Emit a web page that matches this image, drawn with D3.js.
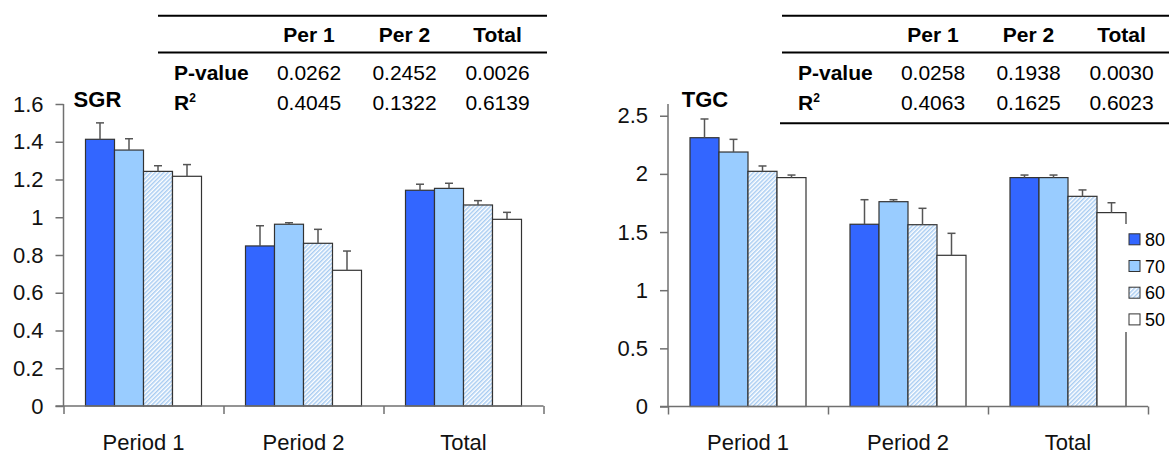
<!DOCTYPE html>
<html lang="en">
	<head>
		<meta charset="utf-8">
		<title>SGR and TGC bar charts</title>
		<script type="text/javascript" src="https://cdn.jsdelivr.net/npm/d3@7"></script>
		<style type="text/css">
			body { margin: 0; background: #fff; }
			svg { font-family: "Liberation Sans", Arial, sans-serif; }
			.tick text { font-size: 22px; fill: #111; }
		</style>
	</head>
	<body>
		<script type="text/javascript">

			//Width and height
			var w = 1169;
			var h = 454;

			//categories and series
			var categories = ["Period 1", "Period 2", "Total"];
			var series = ["80", "70", "60", "50"];

			//SGR means and error bars, one row per series
			var sgrMeans = [
				[1.413, 0.848, 1.143],
				[1.356, 0.963, 1.153],
				[1.243, 0.862, 1.065],
				[1.217, 0.719, 0.989]
			];
			var sgrErrors = [
				[0.087, 0.107, 0.032],
				[0.060, 0.008, 0.027],
				[0.030, 0.074, 0.023],
				[0.062, 0.102, 0.037]
			];

			//TGC means and error bars
			var tgcMeans = [
				[2.311, 1.567, 1.968],
				[2.188, 1.761, 1.968],
				[2.022, 1.563, 1.807],
				[1.968, 1.300, 1.667]
			];
			var tgcErrors = [
				[0.161, 0.211, 0.022],
				[0.109, 0.017, 0.022],
				[0.046, 0.141, 0.055],
				[0.022, 0.189, 0.085]
			];

			//tick labels
			var sgrTicks = [0, 0.2, 0.4, 0.6, 0.8, 1, 1.2, 1.4, 1.6];
			var tgcTicks = [0, 0.5, 1, 1.5, 2, 2.5];

			//tables
			var tableCols = ["Per 1", "Per 2", "Total"];
			var sgrPvalues = ["0.0262", "0.2452", "0.0026"];
			var sgrR2 = ["0.4045", "0.1322", "0.6139"];
			var tgcPvalues = ["0.0258", "0.1938", "0.0030"];
			var tgcR2 = ["0.4063", "0.1625", "0.6023"];

			var fills = ["#3366ff", "#99ccff", "url(#hatch)", "#ffffff"];

			var svg = d3.select("body")
						.append("svg")
						.attr("width", w)
						.attr("height", h);

			//hatch pattern for the 60 series
			var pat = svg.append("defs").append("pattern")
						.attr("id", "hatch")
						.attr("patternUnits", "userSpaceOnUse")
						.attr("width", 3)
						.attr("height", 3)
						.attr("patternTransform", "rotate(45)");
			pat.append("rect").attr("width", 3).attr("height", 3).attr("fill", "#ffffff");
			pat.append("rect").attr("width", 1.5).attr("height", 3).attr("fill", "#a8ccf2");

			function drawChart(opt) {
				var g = svg.append("g");

				var y = d3.scaleLinear().domain([0, opt.ymax]).range([opt.y0, opt.ytop]);
				var x0 = d3.scaleBand().domain(categories).range([opt.x0, opt.x1]);
				var x1 = d3.scaleBand().domain(series).range([22, x0.bandwidth() - 22]);

				//bars
				series.forEach(function(s, si) {
					g.selectAll(".bar" + si)
						.data(categories)
						.enter()
						.append("rect")
						.attr("x", function(d) { return x0(d) + x1(s); })
						.attr("width", x1.bandwidth())
						.attr("y", function(d, i) { return y(opt.means[si][i]); })
						.attr("height", function(d, i) { return y(0) - y(opt.means[si][i]); })
						.attr("fill", fills[si])
						.attr("stroke", "#333")
						.attr("stroke-width", 1.2);

					//error bars
					var eb = g.selectAll(".err" + si)
						.data(categories)
						.enter()
						.append("g")
						.attr("stroke", "#555")
						.attr("stroke-width", 1.5);
					eb.append("line")
						.attr("x1", function(d) { return x0(d) + x1(s) + x1.bandwidth() / 2; })
						.attr("x2", function(d) { return x0(d) + x1(s) + x1.bandwidth() / 2; })
						.attr("y1", function(d, i) { return y(opt.means[si][i]); })
						.attr("y2", function(d, i) { return y(opt.means[si][i] + opt.errors[si][i]); });
					eb.append("line")
						.attr("x1", function(d) { return x0(d) + x1(s) + x1.bandwidth() / 2 - 4; })
						.attr("x2", function(d) { return x0(d) + x1(s) + x1.bandwidth() / 2 + 4; })
						.attr("y1", function(d, i) { return y(opt.means[si][i] + opt.errors[si][i]); })
						.attr("y2", function(d, i) { return y(opt.means[si][i] + opt.errors[si][i]); });
				});

				//y axis
				var ya = g.append("g")
						.attr("transform", "translate(" + opt.x0 + ",0)")
						.call(d3.axisLeft(y).tickValues(opt.ticks).tickSize(8).tickPadding(12)
							.tickFormat(function(d) { return d; }));
				ya.select(".domain").attr("d", "M0," + y(0) + "V" + opt.ytop);

				//x axis tick marks at the group edges
				var xb = d3.scaleLinear().domain([0, categories.length]).range([opt.x0, opt.x1]);
				var xa = g.append("g")
						.attr("transform", "translate(0," + y(0) + ")")
						.call(d3.axisBottom(xb).tickValues([0, 1, 2, 3]).tickSize(8).tickFormat(""));
				xa.select(".domain").attr("d", "M" + (opt.x0 - 8) + ",0H" + opt.x1);

				//category labels, baseline kept at about y = 450
				var xl = g.append("g")
						.attr("transform", "translate(0,406)")
						.call(d3.axisBottom(x0).tickSize(0).tickPadding(28.5));
				xl.select(".domain").remove();

				g.selectAll(".domain, .tick line").attr("stroke", "#707070").attr("stroke-width", 1.5);

				//title
				g.append("text")
					.attr("x", opt.titleX)
					.attr("y", 107)
					.attr("font-size", 22)
					.attr("font-weight", "bold")
					.text(opt.title);

				//table
				var t = svg.append("g").attr("transform", "translate(" + opt.tableX + ",0)");
				t.append("line").attr("x1", 0).attr("x2", 389).attr("y1", 15.7).attr("y2", 15.7)
					.attr("stroke", "#000").attr("stroke-width", 2);
				t.append("line").attr("x1", 0).attr("x2", 389).attr("y1", 52.5).attr("y2", 52.5)
					.attr("stroke", "#000").attr("stroke-width", 2);
				if (opt.bottomLine) {
					t.append("line").attr("x1", -2).attr("x2", 389).attr("y1", 123.3).attr("y2", 123.3)
						.attr("stroke", "#000").attr("stroke-width", 2);
				}
				var colX = [151, 246.5, 339.5];
				t.selectAll(".hdr").data(tableCols).enter().append("text")
					.attr("x", function(d, i) { return colX[i]; })
					.attr("y", 42)
					.attr("text-anchor", "middle")
					.attr("font-size", 21)
					.attr("font-weight", "bold")
					.text(function(d) { return d; });
				t.append("text").attr("x", 16).attr("y", 79.5)
					.attr("font-size", 21).attr("font-weight", "bold").text("P-value");
				var r2 = t.append("text").attr("x", 16).attr("y", 109.5)
					.attr("font-size", 21).attr("font-weight", "bold");
				r2.append("tspan").text("R");
				r2.append("tspan").attr("font-size", 12).attr("dy", -8).text("2");
				t.selectAll(".pv").data(opt.pvalues).enter().append("text")
					.attr("x", function(d, i) { return colX[i]; })
					.attr("y", 79.5)
					.attr("text-anchor", "middle")
					.attr("font-size", 21)
					.text(function(d) { return d; });
				t.selectAll(".r2").data(opt.r2).enter().append("text")
					.attr("x", function(d, i) { return colX[i]; })
					.attr("y", 109.5)
					.attr("text-anchor", "middle")
					.attr("font-size", 21)
					.text(function(d) { return d; });
			}

			drawChart({
				means: sgrMeans, errors: sgrErrors, ticks: sgrTicks,
				ymax: 1.6, y0: 406, ytop: 104,
				x0: 63.5, x1: 543.5,
				title: "SGR", titleX: 73.6,
				tableX: 158, pvalues: sgrPvalues, r2: sgrR2, bottomLine: false
			});

			drawChart({
				means: tgcMeans, errors: tgcErrors, ticks: tgcTicks,
				ymax: 2.6, y0: 406.5, ytop: 104.1,
				x0: 668, x1: 1148,
				title: "TGC", titleX: 681.7,
				tableX: 782, pvalues: tgcPvalues, r2: tgcR2, bottomLine: true
			});

			//legend with a white box that hides part of the last bar
			var lg = svg.append("g");
			lg.append("rect")
				.attr("x", 1123.5).attr("y", 224).attr("width", 46).attr("height", 108)
				.attr("fill", "#fff");
			var rows = lg.selectAll(".lrow")
				.data(series)
				.enter()
				.append("g")
				.attr("transform", function(d, i) { return "translate(1129," + (239.3 + i * 26.7) + ")"; });
			rows.append("rect")
				.attr("x", 0).attr("y", -5.5).attr("width", 11).attr("height", 11)
				.attr("fill", function(d, i) { return fills[i]; })
				.attr("stroke", "#333").attr("stroke-width", 1);
			rows.append("text")
				.attr("x", 16).attr("y", 6.5)
				.attr("font-size", 18)
				.text(function(d) { return d; });

		</script>
	</body>
</html>
